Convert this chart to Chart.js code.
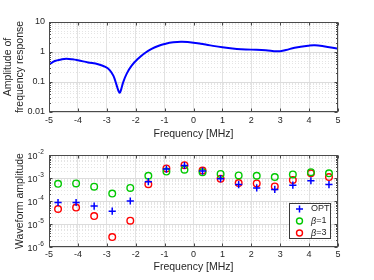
<!DOCTYPE html>
<html>
<head>
<meta charset="utf-8">
<script src="https://cdn.jsdelivr.net/npm/chart.js@4.4.1/dist/chart.umd.min.js"></script>
<style>
  html, body { margin: 0; padding: 0; background: #ffffff; }
  #wrap { position: relative; width: 374px; height: 280px; overflow: hidden; }
  .box { position: absolute; left: 0; width: 374px; height: 140px; }
</style>
</head>
<body>
<div id="wrap">
  <div class="box" style="top:0"><canvas id="top" width="374" height="140"></canvas></div>
  <div class="box" style="top:140px"><canvas id="bot" width="374" height="140"></canvas></div>
</div>
<script>
// ---- Data ----
const respFreq = [-5, -4.8, -4.55, -4.4, -4.2, -4.0, -3.65, -3.3, -3.05, -2.9, -2.77, -2.68, -2.6, -2.55, -2.5, -2.43, -2.31, -2.14, -1.9, -1.68, -1.45, -1.2, -1.0, -0.7, -0.4, 0, 0.5, 1.0, 1.5, 2.0, 2.5, 2.9, 3.2, 3.5, 4.0, 4.2, 4.5, 5.0];
const respAmp  = [0.38, 0.5, 0.57, 0.59, 0.57, 0.53, 0.45, 0.39, 0.32, 0.25, 0.16, 0.09, 0.052, 0.044, 0.058, 0.1, 0.19, 0.35, 0.62, 0.93, 1.27, 1.62, 1.85, 2.1, 2.18, 2.05, 1.71, 1.43, 1.26, 1.2, 1.14, 1.05, 1.17, 1.39, 1.63, 1.67, 1.55, 1.29];

const waveFreq = [-4.6875, -4.0625, -3.4375, -2.8125, -2.1875, -1.5625, -0.9375, -0.3125, 0.3125, 0.9375, 1.5625, 2.1875, 2.8125, 3.4375, 4.0625, 4.6875];
const optAmp   = [8.6e-5, 8.6e-5, 6.0e-5, 3.6e-5, 1.0e-4, 6.9e-4, 2.45e-3, 3.5e-3, 2.0e-3, 9.3e-4, 5.2e-4, 3.7e-4, 3.2e-4, 4.9e-4, 7.6e-4, 5.2e-4];
const beta1Amp = [5.6e-4, 5.8e-4, 4.2e-4, 2.1e-4, 3.7e-4, 1.25e-3, 1.9e-3, 2.3e-3, 1.8e-3, 1.5e-3, 1.3e-3, 1.25e-3, 1.1e-3, 1.43e-3, 1.8e-3, 1.6e-3];
const beta3Amp = [4.5e-5, 5.2e-5, 2.2e-5, 2.7e-6, 1.4e-5, 5.4e-4, 2.6e-3, 3.6e-3, 2.1e-3, 9.3e-4, 6.0e-4, 5.8e-4, 4.3e-4, 8.1e-4, 1.6e-3, 1.1e-3];

const xTicks = [-5, -4, -3, -2, -1, 0, 1, 2, 3, 4, 5];
const topYTickLabels = ['0.01', '0.1', '1', '10'];
const botYExponents = [-6, -5, -4, -3, -2];
const seriesNames = ['OPT', '=1', '=3'];

// ---- Styling ----
const FONT = "'Liberation Sans', Arial, Helvetica, sans-serif";
const TXT = '#262626';
const BLUE = '#0000ff', GREEN = '#00c800', RED = '#ff0000';

function logTicks(minE, maxE) {
  const t = [];
  for (let e = minE; e < maxE; e++) {
    for (let m = 1; m <= 9; m++) t.push({ value: m * Math.pow(10, e), major: m === 1 });
  }
  t.push({ value: Math.pow(10, maxE), major: true });
  return t;
}
function isMajor(v) {
  const l = Math.log10(v);
  return Math.abs(l - Math.round(l)) < 1e-6;
}

const gridStyle = {
  color: ctx => (ctx.tick && isMajor(ctx.tick.value)) ? '#dcdcdc' : '#e4e4e4',
  lineWidth: 1,
  drawTicks: false
};
const logBorder = {
  display: false,
  dash: ctx => (ctx.tick && isMajor(ctx.tick.value)) ? [] : [1, 2]
};

// Box, inward tick marks
function frameDrawer(minE, maxE) {
  return {
    id: 'frame',
    afterDraw(chart) {
      const ctx = chart.ctx, a = chart.chartArea;
      const xs = chart.scales.x, ys = chart.scales.y;
      ctx.save();
      ctx.strokeStyle = '#4a4a4a';
      ctx.lineWidth = 1;
      const L = Math.round(a.left) + 0.5, R = Math.round(a.right) - 0.5;
      const T = Math.round(a.top) + 0.5, B = Math.round(a.bottom) - 0.5;
      ctx.strokeRect(L, T, R - L, B - T);
      ctx.beginPath();
      xTicks.forEach(v => {
        const px = Math.round(xs.getPixelForValue(v)) + 0.5;
        ctx.moveTo(px, B); ctx.lineTo(px, B - 3);
        ctx.moveTo(px, T); ctx.lineTo(px, T + 3);
      });
      logTicks(minE, maxE).forEach(t => {
        const py = Math.round(ys.getPixelForValue(t.value)) + 0.5;
        const len = t.major ? 3 : 1.5;
        ctx.moveTo(L, py); ctx.lineTo(L + len, py);
        ctx.moveTo(R, py); ctx.lineTo(R - len, py);
      });
      ctx.stroke();
      ctx.restore();
    }
  };
}

// ---- Top chart: frequency response ----
new Chart(document.getElementById('top'), {
  type: 'line',
  data: {
    datasets: [{
      label: 'Amplitude of frequency response',
      data: respFreq.map((f, i) => ({ x: f, y: respAmp[i] })),
      borderColor: BLUE,
      borderWidth: 2,
      pointRadius: 0,
      tension: 0.4,
      fill: false
    }]
  },
  options: {
    responsive: false,
    animation: false,
    layout: { padding: { left: 0, right: 36, top: 22, bottom: 0 } },
    plugins: { legend: { display: false }, tooltip: { enabled: false } },
    scales: {
      x: {
        type: 'linear', min: -5, max: 5,
        afterFit: s => { s.height = 28; },
        afterBuildTicks: s => { s.ticks = xTicks.map(v => ({ value: v })); },
        ticks: { color: TXT, font: { family: FONT, size: 9 }, padding: 3, autoSkip: false, maxRotation: 0 },
        grid: { color: '#e2e2e2', lineWidth: 1, drawTicks: false },
        border: { display: false },
        title: { display: true, text: 'Frequency [MHz]', color: TXT, font: { family: FONT, size: 10.5 }, padding: { top: 0, bottom: 0 } }
      },
      y: {
        type: 'logarithmic', min: 0.01, max: 10,
        afterFit: s => { s.width = 49; },
        afterBuildTicks: s => { s.ticks = logTicks(-2, 1); },
        ticks: {
          color: TXT, font: { family: FONT, size: 9 }, padding: 4, autoSkip: false,
          callback: v => {
            if (!isMajor(v)) return '';
            return topYTickLabels[Math.round(Math.log10(v)) + 2];
          }
        },
        grid: gridStyle,
        border: logBorder,
        title: { display: true, text: ['Amplitude of', 'frequency response'], color: TXT, font: { family: FONT, size: 10.5, lineHeight: 1.15 }, padding: { top: 2, bottom: 0 } }
      }
    }
  },
  plugins: [frameDrawer(-2, 1)]
});

// ---- Bottom chart: waveform amplitude ----
const legendAndLabels = {
  id: 'legendAndLabels',
  afterDraw(chart) {
    const ctx = chart.ctx, ys = chart.scales.y;
    ctx.save();
    ctx.fillStyle = TXT;
    botYExponents.forEach(e => {
      const py = ys.getPixelForValue(Math.pow(10, e));
      ctx.font = '9px ' + FONT;
      ctx.textAlign = 'right'; ctx.textBaseline = 'middle';
      ctx.fillText('10', 37.5, py + 2);
      ctx.font = '6.5px ' + FONT;
      ctx.textAlign = 'left';
      ctx.fillText(String(e), 38, py - 2.5);
    });
    const bx = 289.5, by = 63.5, bw = 41, bh = 35;
    ctx.fillStyle = '#ffffff';
    ctx.fillRect(bx, by, bw, bh);
    ctx.strokeStyle = '#3a3a3a';
    ctx.lineWidth = 1;
    ctx.strokeRect(bx, by, bw, bh);
    const rows = [69, 81, 93];
    const mx = 299.5;
    ctx.strokeStyle = BLUE; ctx.lineWidth = 1.5;
    ctx.beginPath();
    ctx.moveTo(mx - 3.5, rows[0]); ctx.lineTo(mx + 3.5, rows[0]);
    ctx.moveTo(mx, rows[0] - 3.5); ctx.lineTo(mx, rows[0] + 3.5);
    ctx.stroke();
    [[GREEN, rows[1]], [RED, rows[2]]].forEach(([c, y]) => {
      ctx.strokeStyle = c; ctx.lineWidth = 1.4;
      ctx.beginPath(); ctx.arc(mx, y, 3, 0, Math.PI * 2); ctx.stroke();
    });
    ctx.fillStyle = TXT;
    ctx.textAlign = 'left'; ctx.textBaseline = 'middle';
    ctx.font = '9px ' + FONT;
    ctx.fillText(seriesNames[0], 311, rows[0]);
    [1, 2].forEach(i => {
      ctx.font = 'italic 9px ' + FONT;
      ctx.fillText('\u03B2', 311, rows[i]);
      const w = ctx.measureText('\u03B2').width;
      ctx.font = '9px ' + FONT;
      ctx.fillText(seriesNames[i], 311 + w, rows[i]);
    });
    ctx.restore();
  }
};

new Chart(document.getElementById('bot'), {
  type: 'scatter',
  data: {
    datasets: [
      { label: 'OPT', data: waveFreq.map((f, i) => ({ x: f, y: optAmp[i] })),
        pointStyle: 'cross', pointRadius: 3.6, borderColor: BLUE, borderWidth: 1.5, backgroundColor: BLUE },
      { label: '\u03B2=1', data: waveFreq.map((f, i) => ({ x: f, y: beta1Amp[i] })),
        pointStyle: 'circle', pointRadius: 3.3, borderColor: GREEN, borderWidth: 1.4, backgroundColor: 'rgba(0,0,0,0)' },
      { label: '\u03B2=3', data: waveFreq.map((f, i) => ({ x: f, y: beta3Amp[i] })),
        pointStyle: 'circle', pointRadius: 3.3, borderColor: RED, borderWidth: 1.4, backgroundColor: 'rgba(0,0,0,0)' }
    ]
  },
  options: {
    responsive: false,
    animation: false,
    layout: { padding: { left: 0, right: 36, top: 15, bottom: 0 } },
    plugins: { legend: { display: false }, tooltip: { enabled: false } },
    scales: {
      x: {
        type: 'linear', min: -5, max: 5,
        afterFit: s => { s.height = 33; },
        afterBuildTicks: s => { s.ticks = xTicks.map(v => ({ value: v })); },
        ticks: { color: TXT, font: { family: FONT, size: 9 }, padding: 2, autoSkip: false, maxRotation: 0 },
        grid: { color: '#e2e2e2', lineWidth: 1, drawTicks: false },
        border: { display: false },
        title: { display: true, text: 'Frequency [MHz]', color: TXT, font: { family: FONT, size: 10.5 }, padding: { top: 0, bottom: 7 } }
      },
      y: {
        type: 'logarithmic', min: 1e-6, max: 1e-2,
        afterFit: s => { s.width = 49; },
        afterBuildTicks: s => { s.ticks = logTicks(-6, -2); },
        ticks: { display: true, color: 'rgba(0,0,0,0)', font: { family: FONT, size: 9 }, padding: 4, autoSkip: false, callback: () => '' },
        grid: gridStyle,
        border: logBorder,
        title: { display: true, text: 'Waveform amplitude', color: TXT, font: { family: FONT, size: 10.5 }, padding: { top: 14, bottom: 0 } }
      }
    }
  },
  plugins: [frameDrawer(-6, -2), legendAndLabels]
});
</script>
</body>
</html>
